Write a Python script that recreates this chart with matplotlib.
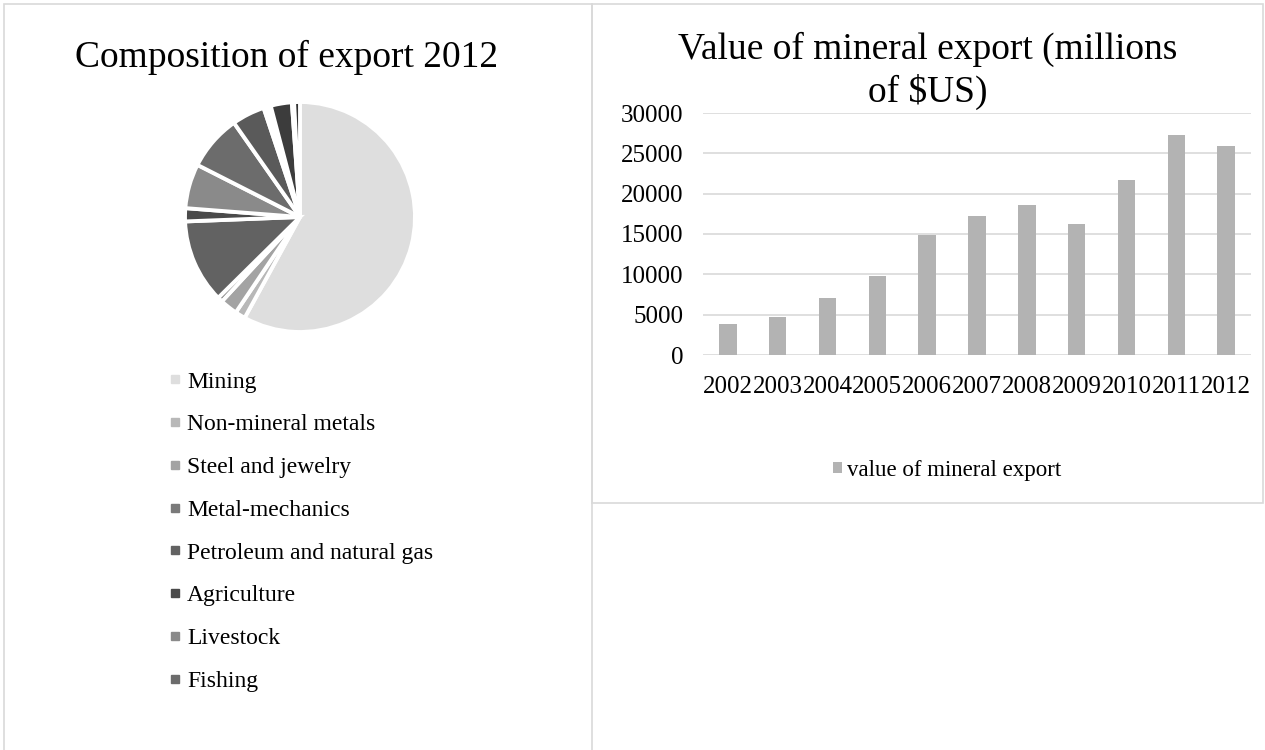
import matplotlib
matplotlib.use("Agg")
import matplotlib.pyplot as plt
from matplotlib.lines import Line2D
from matplotlib.patches import Rectangle

plt.rcParams['font.family'] = ['Liberation Serif', 'DejaVu Serif']

# export composition 2012 (share of total, %), clockwise from the top
categories = ["Mining", "Non-mineral metals", "Steel and jewelry", "Metal-mechanics",
              "Petroleum and natural gas", "Agriculture", "Livestock", "Fishing"]
shares = [56.6, 1.4, 2.4, 0.7, 11.5, 1.8, 6.1, 7.6, 4.5, 0.5, 0.5, 2.9, 0.3, 0.8]
slice_colors = ["#dedede", "#b8b8b8", "#a3a3a3", "#7a7a7a", "#626262", "#4a4a4a", "#8a8a8a",
                "#6c6c6c", "#5a5a5a", "#4c4c4c", "#424242", "#3c3c3c", "#303030", "#333333"]

# value of mineral export, millions of $US
years = ["2002", "2003", "2004", "2005", "2006", "2007", "2008", "2009", "2010", "2011", "2012"]
mineral_export = [3800, 4700, 7100, 9800, 14900, 17200, 18600, 16300, 21700, 27300, 25900]

W, H = 1265, 750
fig = plt.figure(figsize=(W / 100, H / 100), dpi=100)

def px_box(x0, y0, x1, y1):
    return [x0 / W, 1 - y1 / H, (x1 - x0) / W, (y1 - y0) / H]

def fx(px):
    return px / W

def fy(px):
    return 1 - px / H

# chart frames
border = "#d9d9d9"
fig.add_artist(Rectangle((fx(4), -0.01), fx(592 - 4), 1 - 4 / H + 0.01,
                         transform=fig.transFigure, fill=False, ec=border, lw=1.2))
fig.add_artist(Rectangle((fx(592), fy(503)), fx(1263 - 592), (503 - 4) / H,
                         transform=fig.transFigure, fill=False, ec=border, lw=1.2))

# ---- pie ----
ax_pie = fig.add_axes(px_box(185, 102, 415, 332))
ax_pie.pie(shares, colors=slice_colors, startangle=90, counterclock=False,
           wedgeprops=dict(edgecolor="white", linewidth=2.8))
ax_pie.set_xlim(-1.0, 1.0)
ax_pie.set_ylim(-1.0, 1.0)
ax_pie.set_aspect("equal")
ax_pie.axis("off")

fig.text(fx(287), fy(67), "Composition of export 2012", ha="center", va="baseline",
         fontsize=27)

handles = [Line2D([], [], marker="s", ls="none", color=c, markersize=5.5)
           for c in slice_colors[:len(categories)]]
fig.legend(handles, categories, loc="upper left", bbox_to_anchor=(fx(170), fy(371)),
           frameon=False, fontsize=17, handlelength=0.42, handletextpad=0.3,
           labelspacing=0.9, borderaxespad=0, borderpad=0)

# ---- bars ----
ax_bar = fig.add_axes(px_box(703, 113, 1251, 355))
x = range(len(years))
bars = ax_bar.bar(x, mineral_export, width=0.35, color="#b3b3b3", label="value of mineral export")
ax_bar.set_xlim(-0.5, len(years) - 0.5)
ax_bar.set_ylim(0, 30000)
ax_bar.set_yticks(range(0, 30001, 5000))
ax_bar.set_xticks(list(x))
ax_bar.set_xticklabels(years)
ax_bar.grid(axis="y", color="#d9d9d9", lw=1.2)
ax_bar.set_axisbelow(True)
for s in ax_bar.spines.values():
    s.set_visible(False)
ax_bar.tick_params(axis="both", length=0, labelsize=18)
ax_bar.tick_params(axis="y", pad=14)
ax_bar.tick_params(axis="x", pad=15)

fig.text(fx(928), fy(59), "Value of mineral export (millions", ha="center", va="baseline",
         fontsize=27)
fig.text(fx(928), fy(102), "of \\$US)", ha="center", va="baseline", fontsize=27)

fig.legend(handles=[bars], loc="center left", bbox_to_anchor=(fx(833), fy(470)),
           frameon=False, fontsize=16.5, handlelength=0.4, handleheight=0.4,
           handletextpad=0.22, borderaxespad=0, borderpad=0)

fig.savefig("out.png", dpi=100, facecolor="white")
